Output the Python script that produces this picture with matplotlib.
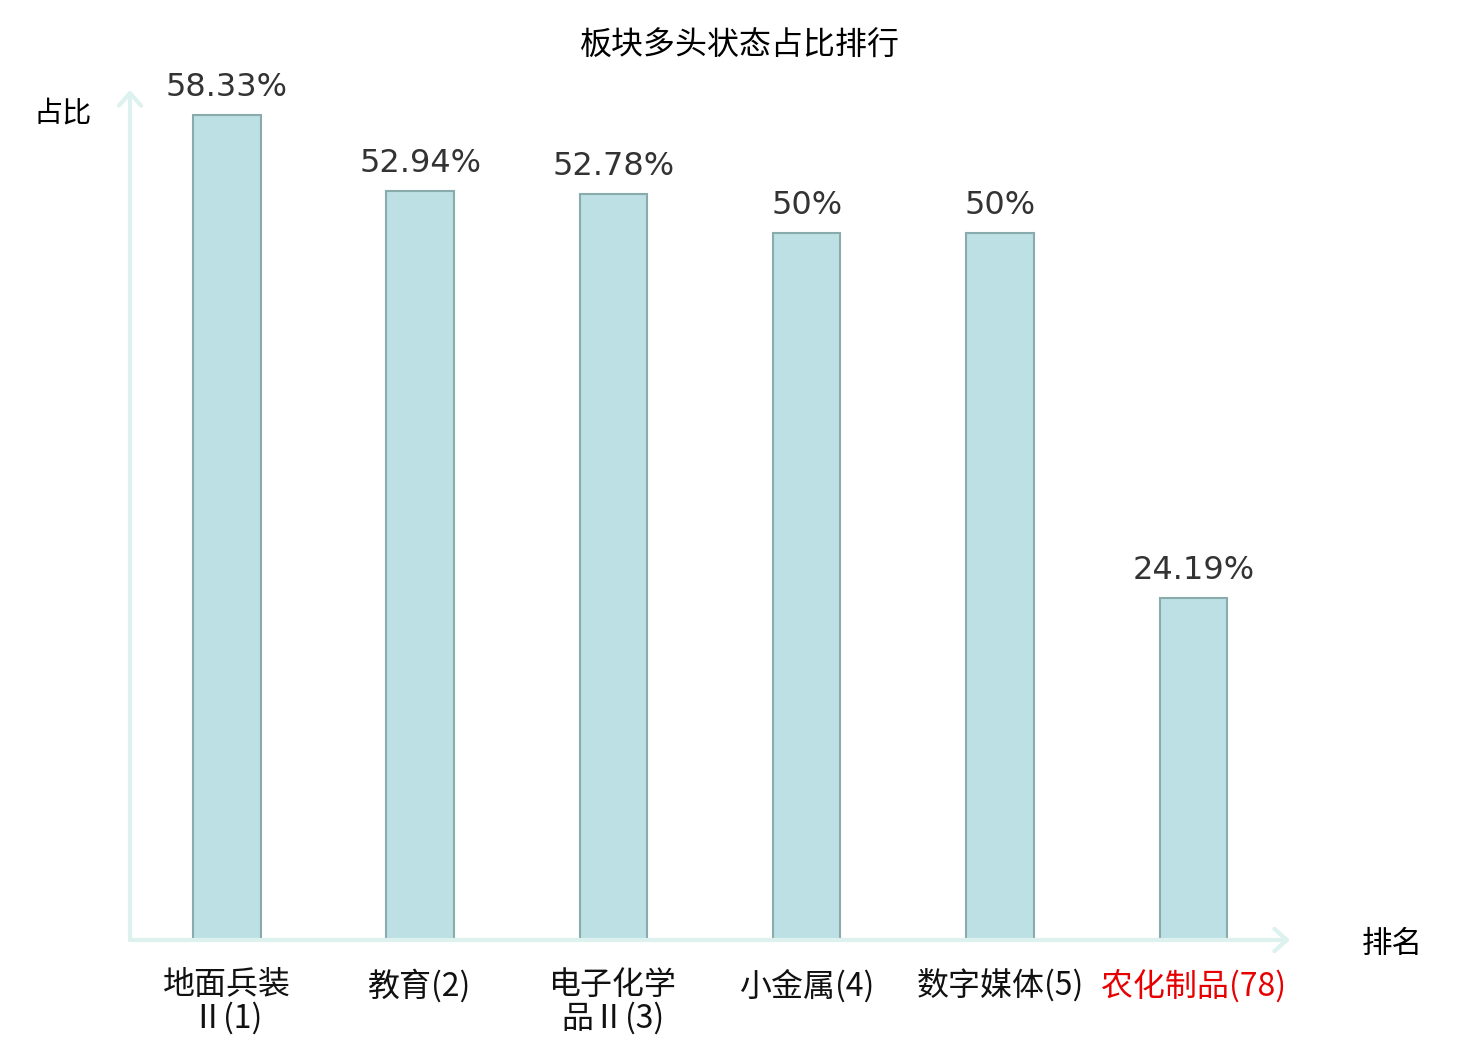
import matplotlib
matplotlib.use('Agg')
import matplotlib.pyplot as plt

plt.rcParams['font.family'] = ['Noto Sans CJK SC', 'DejaVu Sans']

categories = ['地面兵装\nⅡ(1)', '教育(2)', '电子化学\n品Ⅱ(3)', '小金属(4)', '数字媒体(5)', '农化制品(78)']
values = [58.33, 52.94, 52.78, 50, 50, 24.19]
value_labels = ['58.33%', '52.94%', '52.78%', '50%', '50%', '24.19%']
label_colors = ['#111111', '#111111', '#111111', '#111111', '#111111', '#e60000']

fig = plt.figure(figsize=(14.8, 10.4), dpi=100)
ax = fig.add_axes([130 / 1480, 100 / 1040, 1160 / 1480, 850 / 1040])

x = list(range(len(values)))
ax.bar(x, values, width=0.35, color='#bce0e3', edgecolor='#8aabab', linewidth=1.5, zorder=2)

for xi, v, lab in zip(x, values, value_labels):
    ax.annotate(lab, (xi, v), xytext=(0, 8.5), textcoords='offset points',
                ha='center', va='bottom', fontsize=23, color='#333333',
                family='DejaVu Sans')

ax.set_xlim(-0.5, 5.5)
ax.set_ylim(0, 60.1)
ax.set_xticks(x)
ax.set_xticklabels(categories, fontsize=23, linespacing=1.02)
for t, c in zip(ax.get_xticklabels(), label_colors):
    t.set_color(c)
ax.tick_params(axis='x', length=0, pad=21)
ax.set_yticks([])
for s in ax.spines.values():
    s.set_visible(False)

arrow_color = '#ddf1ee'
ax.annotate('', xy=(1.0, 0), xytext=(0, 0), xycoords='axes fraction',
            arrowprops=dict(arrowstyle='->,head_length=0.9,head_width=0.8',
                            color=arrow_color, lw=3, shrinkA=0, shrinkB=0))
ax.annotate('', xy=(0, 1.0), xytext=(0, 0), xycoords='axes fraction',
            arrowprops=dict(arrowstyle='->,head_length=0.9,head_width=0.8',
                            color=arrow_color, lw=3, shrinkA=0, shrinkB=0))

fig.text(0.5, 1 - 46 / 1040, '板块多头状态占比排行', ha='center', va='center', fontsize=23)
fig.text(63 / 1480, 1 - 113 / 1040, '占比', ha='center', va='center', fontsize=21)
fig.text(1392 / 1480, 1 - 944 / 1040, '排名', ha='center', va='center', fontsize=22)

fig.savefig('out.png', dpi=100)
